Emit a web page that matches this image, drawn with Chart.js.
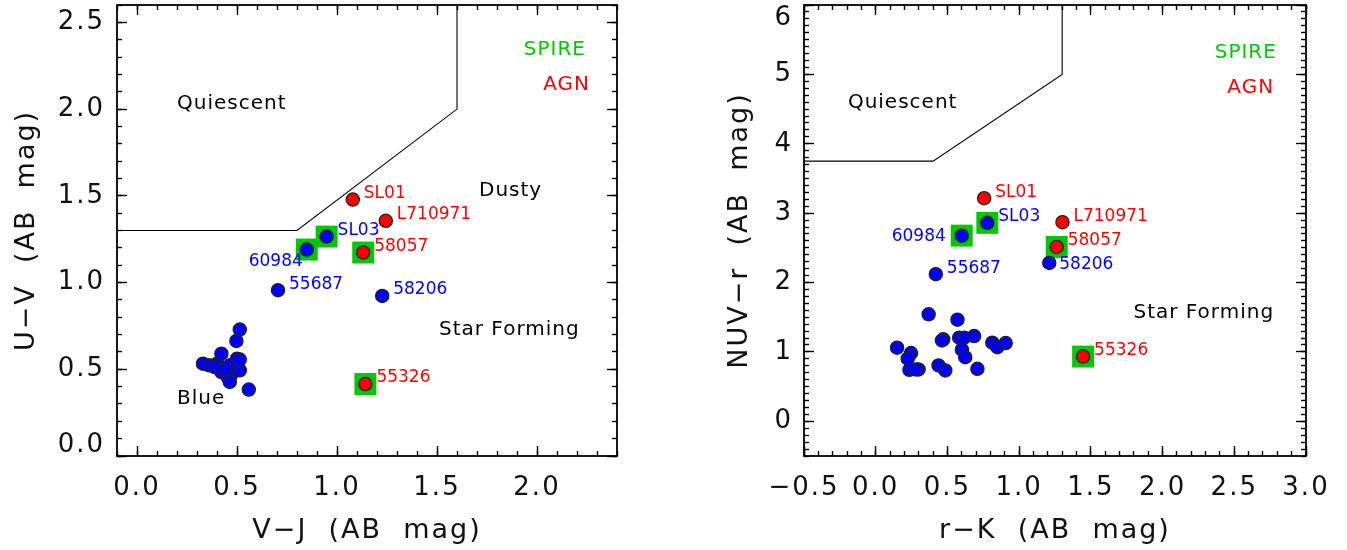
<!DOCTYPE html>
<html><head><meta charset="utf-8">
<script src="https://cdn.jsdelivr.net/npm/chart.js@4.4.1/dist/chart.umd.min.js"></script>
<style>
html,body{margin:0;padding:0;background:#fff;}
#wrap{position:relative;width:1347px;height:550px;overflow:hidden;}
.c{position:absolute;top:0;}
</style></head><body>
<div id="wrap">
<canvas id="a" class="c" style="left:0" width="673" height="550"></canvas>
<canvas id="b" class="c" style="left:673px" width="674" height="550"></canvas>
</div>
<script>
// ---------- DATA: left panel (V-J vs U-V) ----------
const vjBlue = [0.514,0.497,0.422,0.500,0.330,0.360,0.400,0.414,0.464,0.514,0.472,0.422,0.455,0.464,0.559,0.389,0.514,0.439, 0.705,1.226,0.948,0.849];
const uvBlue = [0.729,0.663,0.590,0.561,0.532,0.523,0.532,0.517,0.523,0.494,0.471,0.484,0.452,0.427,0.383,0.513,0.556,0.498, 0.956,0.923,1.265,1.190];
const vjAgn = [1.079,1.244,1.131,1.142];
const uvAgn = [1.478,1.356,1.173,0.415];
const vjSpire = [0.948,0.849,1.131,1.142];
const uvSpire = [1.265,1.190,1.173,0.415];
const vjBoundary = [-0.1, 0.8, 1.6, 1.6];
const uvBoundary = [1.3, 1.3, 2.0, 2.6];
const vjTicks = [0.0, 0.5, 1.0, 1.5, 2.0];
const uvTicks = [0.0, 0.5, 1.0, 1.5, 2.0, 2.5];
const leftNames = ['SL01','L710971','SL03','58057','60984','55687','58206','55326'];
const leftNameX = [1.079,1.244,0.948,1.131,0.849,0.705,1.226,1.142];
const leftNameY = [1.478,1.356,1.265,1.173,1.190,0.956,0.923,0.415];
const leftNameCol = ['red','red','blue','red','blue','blue','blue','red'];

// ---------- DATA: right panel (r-K vs NUV-r) ----------
const rkBlue = [0.369,0.570,0.149,0.246,0.223,0.235,0.299,0.438,0.485,0.471,0.582,0.617,0.686,0.601,0.624,0.709,0.813,0.848,0.906,0.462,0.281, 0.419,1.210,0.778,0.600];
const nuvrBlue = [1.542,1.465,1.061,0.983,0.902,0.743,0.747,0.805,0.733,1.181,1.205,1.205,1.228,1.032,0.925,0.757,1.133,1.069,1.127,1.166,0.747, 2.120,2.283,2.860,2.676];
const rkAgn = [0.756,1.302,1.262,1.446];
const nuvrAgn = [3.215,2.870,2.513,0.933];
const rkSpire = [0.778,0.600,1.262,1.446];
const nuvrSpire = [2.860,2.676,2.513,0.933];
const rkBoundary = [-0.5, 0.4, 1.3, 1.3];
const nuvrBoundary = [3.75, 3.75, 5.0, 6.0];
const rkTicks = [-0.5, 0.0, 0.5, 1.0, 1.5, 2.0, 2.5, 3.0];
const nuvrTicks = [0, 1, 2, 3, 4, 5, 6];
const rightNames = ['SL01','SL03','60984','L710971','58057','58206','55687','55326'];
const rightNameX = [0.756,0.778,0.600,1.302,1.262,1.210,0.419,1.446];
const rightNameY = [3.215,2.860,2.676,2.870,2.513,2.283,2.120,0.933];
const rightNameCol = ['red','blue','blue','red','red','blue','blue','red'];

// ---------- styling ----------
const FONT = "'DejaVu Sans', 'Liberation Sans', sans-serif";
const COL = {blue:'#0000ff', red:'#ff0000', green:'#00c800'};
const zip = (xs, ys) => xs.map((x, i) => ({x, y: ys[i]}));

// label pixel offsets (style, not data)
const leftLabelStyle = {
  '60984': {dx:-4, dy:12, align:'right'}
};
const rightLabelStyle = {
  '60984': {dx:-16, dy:1, align:'right'},
  '58206': {dx:10, dy:2, align:'left'}
};

function makeFramePlugin(F) {
  return {
    id: 'frame' + F.tag,
    beforeDraw(chart) { chart.ctx.letterSpacing = '2px'; },
    afterDraw(chart) {
      const ctx = chart.ctx;
      const ca = chart.chartArea;
      const xs = chart.scales.x, ys = chart.scales.y;
      ctx.save();
      ctx.strokeStyle = '#000';
      ctx.lineWidth = 1.8;
      ctx.strokeRect(ca.left, ca.top, ca.right - ca.left, ca.bottom - ca.top);
      // region labels
      ctx.textBaseline = 'middle';
      ctx.letterSpacing = '1px';
      for (const t of F.texts) {
        ctx.font = t.size + 'px ' + FONT;
        ctx.fillStyle = t.color || '#000';
        ctx.textAlign = t.align || 'left';
        ctx.fillText(t.text, xs.getPixelForValue(t.x), ys.getPixelForValue(t.y));
      }
      // point names
      ctx.letterSpacing = '0px';
      ctx.font = '17px ' + FONT;
      F.names.forEach((nm, i) => {
        const st = F.style[nm] || {dx: 11, dy: -6, align: 'left'};
        ctx.fillStyle = COL[F.cols[i]];
        ctx.textAlign = st.align;
        ctx.fillText(nm, xs.getPixelForValue(F.nx[i]) + st.dx, ys.getPixelForValue(F.ny[i]) + st.dy);
      });
      ctx.restore();
    }
  };
}

// inward tick marks drawn by Chart.js itself (negative tick length)
const tickGrid = len => ({display: true, drawOnChartArea: false, drawTicks: true, tickLength: -len, tickWidth: 1.4, tickColor: '#000'});
const setTicks = list => s => { s.ticks = list.map(v => ({value: v})); };
const minorTicks = step => s => {
  const out = [];
  const n0 = Math.ceil(s.min / step - 1e-6), n1 = Math.floor(s.max / step + 1e-6);
  for (let n = n0; n <= n1; n++) out.push({value: n * step});
  s.ticks = out;
};
const collapse = s => {
  if (s.isHorizontal()) s.height = 0; else s.width = 0;
  s.paddingLeft = 0; s.paddingRight = 0; s.paddingTop = 0; s.paddingBottom = 0;
};

function makeChart(id, cfg) {
  const axisFont = {family: FONT, size: 26};
  const yAxisFont = {family: FONT, size: 26, lineHeight: cfg.ylh};
  const titleFont = {family: FONT, size: 27};
  const F = cfg.frame;
  const aux = (axis, position, list, len, minmax) => ({
    type: 'linear', axis, position, weight: 0, min: minmax[0], max: minmax[1],
    grid: tickGrid(len), border: {display: false},
    afterBuildTicks: Array.isArray(list) ? setTicks(list) : minorTicks(list),
    afterFit: collapse, ticks: {display: false}
  });
  const xr = [cfg.xmin, cfg.xmax], yr = [cfg.ymin, cfg.ymax];
  return new Chart(document.getElementById(id), {
    type: 'scatter',
    data: {
      datasets: [
        {data: zip(cfg.bx, cfg.by), type: 'line', showLine: true, borderColor: '#000', borderWidth: 1.1, pointRadius: 0, fill: false, order: 4},
        {data: zip(cfg.sx, cfg.sy), pointStyle: 'rect', pointRadius: 15.5, backgroundColor: COL.green, borderWidth: 0, order: 3},
        {data: zip(cfg.blx, cfg.bly), pointRadius: 6.6, backgroundColor: COL.blue, borderColor: '#222', borderWidth: 1.3, order: 2},
        {data: zip(cfg.ax, cfg.ay), pointRadius: 6.6, backgroundColor: COL.red, borderColor: '#222', borderWidth: 1.3, order: 1}
      ]
    },
    options: {
      responsive: false,
      animation: false,
      events: [],
      layout: {padding: cfg.pad, autoPadding: false},
      plugins: {legend: {display: false}, tooltip: {enabled: false}},
      scales: {
        x: {
          type: 'linear', position: 'bottom', weight: 1, min: cfg.xmin, max: cfg.xmax,
          grid: tickGrid(10), border: {display: false},
          afterBuildTicks: setTicks(cfg.xticks),
          afterFit: s => { s.height = 94; s.paddingLeft = 0; s.paddingRight = 0; },
          ticks: {font: axisFont, color: '#111', padding: 27, maxRotation: 0, autoSkip: false,
                  callback: v => cfg.xfmt(v)},
          title: {display: true, text: cfg.xtitle, font: titleFont, color: '#111', padding: {top: 0, bottom: 3}}
        },
        xMinor: aux('x', 'bottom', F.xMinor, 5, xr),
        xTop: aux('x', 'top', cfg.xticks, 10, xr),
        xTopMinor: aux('x', 'top', F.xMinor, 5, xr),
        y: {
          type: 'linear', position: 'left', weight: 1, min: cfg.ymin, max: cfg.ymax,
          grid: tickGrid(10), border: {display: false},
          afterBuildTicks: setTicks(cfg.yticks),
          afterFit: s => { s.width = cfg.yw; s.paddingTop = 0; s.paddingBottom = 0; },
          ticks: {font: yAxisFont, color: '#111', padding: cfg.ypad + 10, autoSkip: false,
                  callback: v => cfg.yfmt(v)},
          title: {display: true, text: cfg.ytitle, font: titleFont, color: '#111', padding: {top: cfg.ytp, bottom: 0}}
        },
        yMinor: aux('y', 'left', F.yMinor, 5, yr),
        yRight: aux('y', 'right', cfg.yticks, 10, yr),
        yRightMinor: aux('y', 'right', F.yMinor, 5, yr)
      }
    },
    plugins: [makeFramePlugin(F)]
  });
}

const fmt1 = v => (v < 0 ? '\u2212' : '') + Math.abs(v).toFixed(1);
const fmt0 = v => (v < 0 ? '\u2212' : '') + Math.abs(v).toFixed(0);
// edge labels nudged inside the frame, as in the original plot
const fmtUV = v => v === uvTicks[0] ? [fmt1(v), ''] : fmt1(v);
const fmtNUVr = v => v === nuvrTicks[nuvrTicks.length - 1] ? ['', fmt0(v)] : fmt0(v);

makeChart('a', {
  bx: vjBoundary, by: uvBoundary, sx: vjSpire, sy: uvSpire, blx: vjBlue, bly: uvBlue, ax: vjAgn, ay: uvAgn,
  xmin: -0.1, xmax: 2.4, ymin: 0, ymax: 2.6, xticks: vjTicks, yticks: uvTicks,
  xfmt: fmt1, yfmt: fmtUV, xtitle: 'V\u2212J  (AB  mag)', ytitle: 'U\u2212V  (AB  mag)',
  pad: {left: 0, top: 5, right: 56, bottom: 0}, yw: 117, ypad: 12, ytp: 11, ylh: 0.8,
  frame: {
    tag: 'A', xMinor: 0.1, yMinor: 0.1,
    texts: [
      {text: 'Quiescent', x: 0.2, y: 2.03, size: 20},
      {text: 'Dusty', x: 1.71, y: 1.53, size: 20},
      {text: 'Star Forming', x: 1.51, y: 0.725, size: 20},
      {text: 'Blue', x: 0.2, y: 0.327, size: 20},
      {text: 'SPIRE', x: 2.245, y: 2.34, size: 20, color: COL.green, align: 'right'},
      {text: 'AGN', x: 2.265, y: 2.14, size: 20, color: COL.red, align: 'right'}
    ],
    names: leftNames, nx: leftNameX, ny: leftNameY, cols: leftNameCol, style: leftLabelStyle
  }
});

makeChart('b', {
  bx: rkBoundary, by: nuvrBoundary, sx: rkSpire, sy: nuvrSpire, blx: rkBlue, bly: nuvrBlue, ax: rkAgn, ay: nuvrAgn,
  xmin: -0.5, xmax: 3.0, ymin: -0.5, ymax: 6.0, xticks: rkTicks, yticks: nuvrTicks,
  xfmt: fmt1, yfmt: fmtNUVr, xtitle: 'r\u2212K  (AB  mag)', ytitle: 'NUV\u2212r  (AB  mag)',
  pad: {left: 0, top: 5, right: 41, bottom: 0}, yw: 131, ypad: 11, ytp: 51, ylh: 1.0,
  frame: {
    tag: 'B', xMinor: 0.1, yMinor: 0.1,
    texts: [
      {text: 'Quiescent', x: -0.194, y: 4.59, size: 20},
      {text: 'Star Forming', x: 1.797, y: 1.571, size: 20},
      {text: 'SPIRE', x: 2.797, y: 5.305, size: 20, color: COL.green, align: 'right'},
      {text: 'AGN', x: 2.778, y: 4.805, size: 20, color: COL.red, align: 'right'}
    ],
    names: rightNames, nx: rightNameX, ny: rightNameY, cols: rightNameCol, style: rightLabelStyle
  }
});
</script>
</body></html>
